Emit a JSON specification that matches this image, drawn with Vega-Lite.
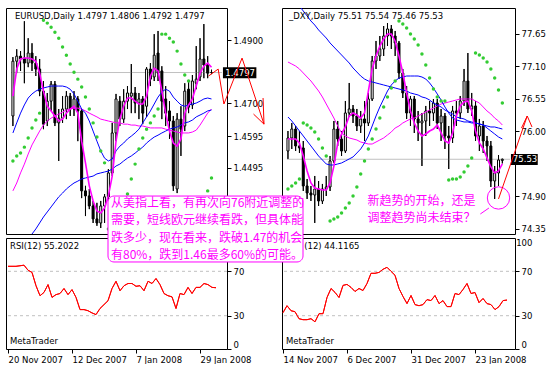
{
"$schema": "https://vega.github.io/schema/vega-lite/v6.json",
"background": "white",
"padding": {"left": 5, "top": 7, "right": 0, "bottom": 0},
"bounds": "flush",
"columns": 2,
"spacing": {"row": 4, "column": 55},
"config": {"view": {"stroke": "black", "strokeWidth": 1}, "font": "DejaVu Sans", "axis": {"labelOverlap": false, "labelBound": false, "labelFlush": false, "labelSeparation": 0}},
"datasets": {
"L": [
{"i":0,"o":1.4659,"h":1.4846,"l":1.4627,"c":1.4833,"f":1.4722,"a":1.4605,"s":1.4421,"b":1.4192,"sar":1.4516,"rsi":74.5},
{"i":1,"o":1.4833,"h":1.4871,"l":1.4795,"c":1.4849,"f":1.4808,"a":1.4637,"s":1.4446,"b":1.4205,"sar":1.4532,"rsi":74.5},
{"i":2,"o":1.4849,"h":1.4865,"l":1.4802,"c":1.4840,"f":1.4840,"a":1.4668,"s":1.4478,"b":1.4221,"sar":1.4541,"rsi":74.5},
{"i":3,"o":1.4843,"h":1.4960,"l":1.4763,"c":1.4827,"f":1.4843,"a":1.4694,"s":1.4506,"b":1.4240,"sar":1.4560,"rsi":75},
{"i":4,"o":1.4827,"h":1.4906,"l":1.4814,"c":1.4859,"f":1.4843,"a":1.4716,"s":1.4538,"b":1.4262,"sar":1.4589,"rsi":75.5},
{"i":5,"o":1.4859,"h":1.4890,"l":1.4802,"c":1.4827,"f":1.4840,"a":1.4729,"s":1.4567,"b":1.4284,"sar":1.4621,"rsi":71},
{"i":6,"o":1.4827,"h":1.4849,"l":1.4786,"c":1.4808,"f":1.4833,"a":1.4738,"s":1.4589,"b":1.4300,"sar":1.4646,"rsi":69},
{"i":7,"o":1.4808,"h":1.4840,"l":1.4722,"c":1.4738,"f":1.4795,"a":1.4744,"s":1.4611,"b":1.4319,"sar":1.4668,"rsi":57},
{"i":8,"o":1.4738,"h":1.4770,"l":1.4617,"c":1.4633,"f":1.4738,"a":1.4748,"s":1.4630,"b":1.4338,"sar":1.4963,"rsi":48},
{"i":9,"o":1.4643,"h":1.4732,"l":1.4627,"c":1.4706,"f":1.4690,"a":1.4751,"s":1.4643,"b":1.4354,"sar":1.4954,"rsi":51},
{"i":10,"o":1.4706,"h":1.4770,"l":1.4675,"c":1.4760,"f":1.4675,"a":1.4754,"s":1.4652,"b":1.4370,"sar":1.4941,"rsi":58},
{"i":11,"o":1.4760,"h":1.4770,"l":1.4627,"c":1.4637,"f":1.4659,"a":1.4754,"s":1.4659,"b":1.4386,"sar":1.4925,"rsi":46.5},
{"i":12,"o":1.4637,"h":1.4681,"l":1.4516,"c":1.4652,"f":1.4643,"a":1.4754,"s":1.4665,"b":1.4402,"sar":1.4906,"rsi":49},
{"i":13,"o":1.4652,"h":1.4722,"l":1.4637,"c":1.4681,"f":1.4649,"a":1.4754,"s":1.4671,"b":1.4414,"sar":1.4878,"rsi":50},
{"i":14,"o":1.4681,"h":1.4738,"l":1.4649,"c":1.4722,"f":1.4668,"a":1.4751,"s":1.4678,"b":1.4427,"sar":1.4852,"rsi":54.5},
{"i":15,"o":1.4722,"h":1.4732,"l":1.4659,"c":1.4681,"f":1.4681,"a":1.4744,"s":1.4681,"b":1.4437,"sar":1.4824,"rsi":49},
{"i":16,"o":1.4681,"h":1.4738,"l":1.4659,"c":1.4713,"f":1.4690,"a":1.4729,"s":1.4684,"b":1.4446,"sar":1.4798,"rsi":53.5},
{"i":17,"o":1.4713,"h":1.4722,"l":1.4579,"c":1.4675,"f":1.4668,"a":1.4706,"s":1.4684,"b":1.4452,"sar":1.4776,"rsi":46.5},
{"i":18,"o":1.4675,"h":1.4681,"l":1.4398,"c":1.4421,"f":1.4579,"a":1.4681,"s":1.4681,"b":1.4459,"sar":1.4751,"rsi":35.5},
{"i":19,"o":1.4421,"h":1.4437,"l":1.4341,"c":1.4405,"f":1.4510,"a":1.4668,"s":1.4675,"b":1.4462,"sar":1.4719,"rsi":35.5},
{"i":20,"o":1.4405,"h":1.4427,"l":1.4363,"c":1.4373,"f":1.4437,"a":1.4643,"s":1.4668,"b":1.4465,"sar":1.4681,"rsi":34.5},
{"i":21,"o":1.4373,"h":1.4389,"l":1.4319,"c":1.4332,"f":1.4389,"a":1.4611,"s":1.4662,"b":1.4468,"sar":1.4637,"rsi":32.5},
{"i":22,"o":1.4332,"h":1.4383,"l":1.4310,"c":1.4319,"f":1.4357,"a":1.4579,"s":1.4656,"b":1.4475,"sar":1.4592,"rsi":31},
{"i":23,"o":1.4319,"h":1.4389,"l":1.4303,"c":1.4373,"f":1.4351,"a":1.4548,"s":1.4649,"b":1.4478,"sar":1.4548,"rsi":36.5},
{"i":24,"o":1.4373,"h":1.4411,"l":1.4319,"c":1.4402,"f":1.4367,"a":1.4525,"s":1.4646,"b":1.4481,"sar":1.4510,"rsi":40},
{"i":25,"o":1.4402,"h":1.4490,"l":1.4389,"c":1.4478,"f":1.4405,"a":1.4516,"s":1.4643,"b":1.4484,"sar":1.4300,"rsi":43.5},
{"i":26,"o":1.4478,"h":1.4637,"l":1.4468,"c":1.4605,"f":1.4468,"a":1.4522,"s":1.4640,"b":1.4490,"sar":1.4319,"rsi":54.5},
{"i":27,"o":1.4605,"h":1.4729,"l":1.4579,"c":1.4713,"f":1.4579,"a":1.4548,"s":1.4637,"b":1.4500,"sar":1.4344,"rsi":61},
{"i":28,"o":1.4706,"h":1.4722,"l":1.4627,"c":1.4649,"f":1.4649,"a":1.4563,"s":1.4637,"b":1.4506,"sar":1.4367,"rsi":52.5},
{"i":29,"o":1.4649,"h":1.4744,"l":1.4637,"c":1.4706,"f":1.4690,"a":1.4573,"s":1.4633,"b":1.4516,"sar":1.4389,"rsi":57},
{"i":30,"o":1.4706,"h":1.4754,"l":1.4681,"c":1.4732,"f":1.4716,"a":1.4586,"s":1.4633,"b":1.4525,"sar":1.4411,"rsi":59},
{"i":31,"o":1.4722,"h":1.4824,"l":1.4668,"c":1.4732,"f":1.4716,"a":1.4595,"s":1.4630,"b":1.4532,"sar":1.4459,"rsi":59},
{"i":32,"o":1.4732,"h":1.4751,"l":1.4668,"c":1.4700,"f":1.4706,"a":1.4605,"s":1.4630,"b":1.4541,"sar":1.4506,"rsi":56.5},
{"i":33,"o":1.4700,"h":1.4732,"l":1.4649,"c":1.4713,"f":1.4697,"a":1.4617,"s":1.4627,"b":1.4551,"sar":1.4554,"rsi":57},
{"i":34,"o":1.4713,"h":1.4722,"l":1.4633,"c":1.4668,"f":1.4697,"a":1.4637,"s":1.4627,"b":1.4560,"sar":1.4589,"rsi":52.5},
{"i":35,"o":1.4690,"h":1.4814,"l":1.4656,"c":1.4808,"f":1.4722,"a":1.4656,"s":1.4624,"b":1.4573,"sar":1.4617,"rsi":61},
{"i":36,"o":1.4808,"h":1.4827,"l":1.4754,"c":1.4776,"f":1.4786,"a":1.4675,"s":1.4621,"b":1.4583,"sar":1.4637,"rsi":59},
{"i":37,"o":1.4783,"h":1.4919,"l":1.4770,"c":1.4852,"f":1.4811,"a":1.4697,"s":1.4621,"b":1.4592,"sar":1.4659,"rsi":63.5},
{"i":38,"o":1.4859,"h":1.4929,"l":1.4770,"c":1.4795,"f":1.4802,"a":1.4719,"s":1.4621,"b":1.4598,"sar":1.4681,"rsi":58},
{"i":39,"o":1.4802,"h":1.4817,"l":1.4649,"c":1.4706,"f":1.4738,"a":1.4735,"s":1.4621,"b":1.4605,"sar":1.4919,"rsi":50},
{"i":40,"o":1.4713,"h":1.4754,"l":1.4627,"c":1.4668,"f":1.4668,"a":1.4744,"s":1.4617,"b":1.4611,"sar":1.4919,"rsi":48},
{"i":41,"o":1.4675,"h":1.4706,"l":1.4586,"c":1.4643,"f":1.4611,"a":1.4738,"s":1.4614,"b":1.4617,"sar":1.4906,"rsi":47},
{"i":42,"o":1.4643,"h":1.4659,"l":1.4421,"c":1.4437,"f":1.4573,"a":1.4719,"s":1.4611,"b":1.4621,"sar":1.4894,"rsi":36.5},
{"i":43,"o":1.4427,"h":1.4668,"l":1.4414,"c":1.4649,"f":1.4563,"a":1.4706,"s":1.4608,"b":1.4624,"sar":1.4865,"rsi":50},
{"i":44,"o":1.4649,"h":1.4690,"l":1.4532,"c":1.4617,"f":1.4586,"a":1.4694,"s":1.4605,"b":1.4630,"sar":1.4824,"rsi":49},
{"i":45,"o":1.4627,"h":1.4763,"l":1.4611,"c":1.4738,"f":1.4668,"a":1.4690,"s":1.4605,"b":1.4637,"sar":1.4789,"rsi":55.5},
{"i":46,"o":1.4744,"h":1.4770,"l":1.4668,"c":1.4687,"f":1.4694,"a":1.4694,"s":1.4605,"b":1.4640,"sar":1.4770,"rsi":50},
{"i":47,"o":1.4694,"h":1.4789,"l":1.4681,"c":1.4770,"f":1.4713,"a":1.4697,"s":1.4608,"b":1.4646,"rsi":55.5},
{"i":48,"o":1.4763,"h":1.4881,"l":1.4744,"c":1.4776,"f":1.4754,"a":1.4700,"s":1.4614,"b":1.4656,"rsi":55.5},
{"i":49,"o":1.4783,"h":1.4906,"l":1.4770,"c":1.4840,"f":1.4795,"a":1.4706,"s":1.4630,"b":1.4662,"rsi":59},
{"i":50,"o":1.4840,"h":1.4951,"l":1.4779,"c":1.4821,"f":1.4817,"a":1.4713,"s":1.4649,"b":1.4668,"rsi":58},
{"i":51,"o":1.4824,"h":1.4849,"l":1.4779,"c":1.4795,"f":1.4827,"a":1.4716,"s":1.4668,"b":1.4675,"sar":1.4421,"rsi":55.5},
{"i":52,"o":1.4797,"h":1.4806,"l":1.4792,"c":1.4797,"f":1.4814,"a":1.4713,"s":1.4681,"b":1.4678,"sar":1.4462,"rsi":55.2}
],
"R": [
{"i":0,"o":75.670,"h":76.008,"l":75.535,"c":75.890,"f":75.873,"a":78.242,"s":77.176,"b":76.245,"sar":75.027,"rsi":32.7},
{"i":1,"o":75.890,"h":76.144,"l":75.704,"c":76.042,"f":75.873,"a":78.208,"s":77.142,"b":76.178,"sar":75.078,"rsi":39},
{"i":2,"o":76.042,"h":76.093,"l":75.670,"c":75.755,"f":75.873,"a":78.175,"s":77.108,"b":76.093,"sar":75.129,"rsi":34.5},
{"i":3,"o":75.755,"h":76.008,"l":75.636,"c":75.721,"f":75.805,"a":78.124,"s":77.058,"b":76.008,"sar":75.196,"rsi":33.6},
{"i":4,"o":75.721,"h":75.839,"l":74.993,"c":75.078,"f":75.585,"a":78.039,"s":76.990,"b":75.924,"sar":76.144,"rsi":27.3},
{"i":5,"o":75.078,"h":75.196,"l":74.858,"c":74.959,"f":75.332,"a":77.955,"s":76.922,"b":75.839,"sar":76.110,"rsi":26.4},
{"i":6,"o":74.959,"h":75.078,"l":74.824,"c":74.925,"f":75.129,"a":77.870,"s":76.855,"b":75.755,"sar":76.059,"rsi":26.4},
{"i":7,"o":74.925,"h":75.247,"l":74.452,"c":75.027,"f":75.044,"a":77.802,"s":76.770,"b":75.670,"sar":75.992,"rsi":27.3},
{"i":8,"o":75.027,"h":75.162,"l":74.739,"c":74.824,"f":75.027,"a":77.718,"s":76.685,"b":75.585,"sar":75.873,"rsi":24.5},
{"i":9,"o":74.824,"h":75.112,"l":74.773,"c":75.027,"f":75.010,"a":77.650,"s":76.584,"b":75.518,"sar":75.721,"rsi":31.8},
{"i":10,"o":75.027,"h":75.247,"l":74.908,"c":75.061,"f":75.010,"a":77.582,"s":76.465,"b":75.450,"sar":75.585,"rsi":31.8},
{"i":11,"o":75.061,"h":75.585,"l":74.993,"c":75.501,"f":75.129,"a":77.498,"s":76.347,"b":75.433,"sar":74.485,"rsi":46.4},
{"i":12,"o":75.501,"h":76.178,"l":75.467,"c":76.042,"f":75.416,"a":77.430,"s":76.228,"b":75.433,"sar":74.519,"rsi":54.5},
{"i":13,"o":76.042,"h":76.178,"l":75.755,"c":75.873,"f":75.805,"a":77.362,"s":76.093,"b":75.450,"sar":74.553,"rsi":51},
{"i":14,"o":75.873,"h":76.008,"l":75.585,"c":75.670,"f":75.958,"a":77.295,"s":75.975,"b":75.467,"sar":74.621,"rsi":46.4},
{"i":15,"o":75.670,"h":76.516,"l":75.636,"c":76.313,"f":76.076,"a":77.227,"s":75.924,"b":75.501,"sar":74.705,"rsi":57.3},
{"i":16,"o":76.313,"h":76.821,"l":76.245,"c":76.381,"f":76.262,"a":77.159,"s":75.890,"b":75.535,"sar":74.790,"rsi":58.2},
{"i":17,"o":76.381,"h":76.448,"l":76.144,"c":76.262,"f":76.313,"a":77.075,"s":75.873,"b":75.569,"sar":74.908,"rsi":55.5},
{"i":18,"o":76.262,"h":76.381,"l":76.008,"c":76.093,"f":76.279,"a":77.007,"s":75.856,"b":75.636,"sar":75.061,"rsi":51.8},
{"i":19,"o":76.093,"h":76.347,"l":75.975,"c":76.212,"f":76.228,"a":76.939,"s":75.822,"b":75.704,"sar":75.281,"rsi":54.5},
{"i":20,"o":76.212,"h":76.516,"l":75.839,"c":76.144,"f":76.313,"a":76.888,"s":75.805,"b":75.805,"sar":75.501,"rsi":52.7},
{"i":21,"o":76.144,"h":76.652,"l":76.093,"c":76.550,"f":76.685,"a":76.855,"s":75.788,"b":75.924,"sar":75.704,"rsi":59},
{"i":22,"o":76.550,"h":77.278,"l":76.516,"c":77.193,"f":77.058,"a":76.838,"s":75.788,"b":76.093,"sar":75.873,"rsi":68.2},
{"i":23,"o":77.193,"h":77.532,"l":77.058,"c":77.278,"f":77.278,"a":76.821,"s":75.822,"b":76.262,"sar":76.042,"rsi":68.2},
{"i":24,"o":77.278,"h":77.616,"l":77.193,"c":77.396,"f":77.447,"a":76.804,"s":75.856,"b":76.415,"sar":76.228,"rsi":69},
{"i":25,"o":77.396,"h":77.785,"l":77.278,"c":77.616,"f":77.565,"a":76.787,"s":75.890,"b":76.550,"sar":76.415,"rsi":71.8},
{"i":26,"o":77.616,"h":77.836,"l":77.447,"c":77.735,"f":77.650,"a":76.770,"s":75.941,"b":76.685,"sar":76.584,"rsi":73.6},
{"i":27,"o":77.735,"h":77.802,"l":77.396,"c":77.616,"f":77.650,"a":76.753,"s":75.992,"b":76.787,"sar":76.736,"rsi":70},
{"i":28,"o":77.616,"h":77.701,"l":77.278,"c":77.498,"f":77.532,"a":76.736,"s":76.059,"b":76.855,"sar":76.855,"rsi":66.4},
{"i":29,"o":77.498,"h":77.532,"l":76.888,"c":76.990,"f":77.278,"a":76.719,"s":76.093,"b":76.905,"sar":77.870,"rsi":54.5},
{"i":30,"o":76.990,"h":77.058,"l":76.567,"c":76.652,"f":76.990,"a":76.702,"s":76.144,"b":76.922,"sar":77.819,"rsi":47.3},
{"i":31,"o":76.652,"h":76.770,"l":76.212,"c":76.313,"f":76.652,"a":76.685,"s":76.178,"b":76.939,"sar":77.752,"rsi":40.9},
{"i":32,"o":76.313,"h":76.601,"l":76.093,"c":76.550,"f":76.347,"a":76.652,"s":76.212,"b":76.939,"sar":77.650,"rsi":48.2},
{"i":33,"o":76.550,"h":76.601,"l":75.975,"c":76.212,"f":76.144,"a":76.635,"s":76.228,"b":76.939,"sar":77.565,"rsi":40},
{"i":34,"o":76.212,"h":76.347,"l":75.839,"c":76.144,"f":76.008,"a":76.618,"s":76.262,"b":76.939,"sar":77.464,"rsi":39},
{"i":35,"o":76.144,"h":76.313,"l":75.416,"c":76.178,"f":75.924,"a":76.584,"s":76.296,"b":76.922,"sar":77.312,"rsi":40},
{"i":36,"o":76.178,"h":76.432,"l":75.924,"c":76.347,"f":75.958,"a":76.567,"s":76.330,"b":76.888,"sar":77.125,"rsi":44.5},
{"i":37,"o":76.347,"h":76.516,"l":76.093,"c":76.313,"f":76.008,"a":76.533,"s":76.364,"b":76.821,"sar":76.905,"rsi":43.6},
{"i":38,"o":76.313,"h":76.550,"l":76.178,"c":76.482,"f":76.042,"a":76.482,"s":76.398,"b":76.736,"sar":76.719,"rsi":48.2},
{"i":39,"o":76.482,"h":76.550,"l":76.042,"c":76.144,"f":76.110,"a":76.448,"s":76.432,"b":76.635,"sar":76.584,"rsi":40.9},
{"i":40,"o":76.144,"h":76.381,"l":75.839,"c":76.262,"f":75.975,"a":76.415,"s":76.465,"b":76.533,"sar":76.516,"rsi":43.6},
{"i":41,"o":76.262,"h":76.313,"l":75.704,"c":75.924,"f":75.839,"a":76.364,"s":76.482,"b":76.415,"sar":76.516,"rsi":38.2},
{"i":42,"o":75.924,"h":76.093,"l":75.365,"c":75.890,"f":75.805,"a":76.330,"s":76.499,"b":76.313,"sar":75.179,"rsi":38.2},
{"i":43,"o":75.890,"h":76.432,"l":75.805,"c":76.347,"f":75.975,"a":76.296,"s":76.516,"b":76.228,"sar":75.196,"rsi":50},
{"i":44,"o":76.347,"h":76.516,"l":76.093,"c":76.313,"f":76.262,"a":76.245,"s":76.533,"b":76.195,"sar":75.196,"rsi":49},
{"i":45,"o":76.313,"h":76.601,"l":76.212,"c":76.516,"f":76.432,"a":76.228,"s":76.550,"b":76.178,"sar":75.230,"rsi":53.6},
{"i":46,"o":76.516,"h":77.058,"l":76.432,"c":76.855,"f":76.499,"a":76.212,"s":76.550,"b":76.161,"sar":75.315,"rsi":59},
{"i":47,"o":76.855,"h":77.328,"l":76.313,"c":76.381,"f":76.516,"a":76.178,"s":76.550,"b":76.161,"sar":75.416,"rsi":50},
{"i":48,"o":76.381,"h":76.652,"l":76.262,"c":76.432,"f":76.347,"a":76.161,"s":76.550,"b":76.144,"sar":75.552,"rsi":50.9},
{"i":49,"o":76.432,"h":76.516,"l":75.839,"c":75.924,"f":76.008,"a":76.144,"s":76.516,"b":76.144,"sar":77.328,"rsi":41.8},
{"i":50,"o":75.924,"h":76.212,"l":75.670,"c":76.093,"f":75.805,"a":76.127,"s":76.482,"b":76.127,"sar":77.295,"rsi":45.5},
{"i":51,"o":76.093,"h":76.178,"l":75.636,"c":75.839,"f":75.704,"a":76.110,"s":76.415,"b":76.110,"sar":77.244,"rsi":40.9},
{"i":52,"o":75.839,"h":75.924,"l":75.501,"c":75.755,"f":75.552,"a":76.093,"s":76.347,"b":76.059,"sar":77.176,"rsi":40},
{"i":53,"o":75.755,"h":75.839,"l":75.061,"c":75.162,"f":75.399,"a":76.076,"s":76.296,"b":76.008,"sar":77.058,"rsi":35.5},
{"i":54,"o":75.162,"h":75.416,"l":74.858,"c":75.298,"f":75.298,"a":76.076,"s":76.228,"b":75.958,"sar":76.905,"rsi":38.2},
{"i":55,"o":75.298,"h":75.602,"l":75.078,"c":75.518,"f":75.332,"a":76.059,"s":76.178,"b":75.907,"sar":76.702,"rsi":43.6},
{"i":56,"o":75.51,"h":75.54,"l":75.46,"c":75.53,"f":75.450,"a":76.042,"s":76.110,"b":75.873,"sar":76.482,"rsi":44.1}
]
},
"concat": [
{
"width": 221, "height": 226,
"data": {"name": "L"},
"layer": [
{"mark": {"type": "rule", "color": "black", "strokeWidth": 1},
 "encoding": {"x": {"field": "i", "type": "quantitative", "scale": {"domain": [-0.5, 54.75], "nice": false, "zero": false}, "axis": null},
  "y": {"field": "l", "type": "quantitative", "scale": {"domain": [1.4284, 1.5002], "nice": false, "zero": false},
   "axis": {"orient": "right", "values": [1.49, 1.47, 1.4595, 1.4495], "format": ".4f", "tickSize": 4, "labelPadding": 2, "domain": false, "grid": false, "title": null, "labelOverlap": false, "labelFont": "DejaVu Sans", "labelFontSize": 8.5, "labelColor": "black", "tickColor": "black"}},
  "y2": {"field": "h"}}},
{"data": {"values": [{}]}, "mark": {"type": "rule", "color": "#C0C0C0", "strokeWidth": 1},
 "encoding": {"x": {"datum": -0.5, "type": "quantitative", "scale": {"domain": [-0.5, 54.75], "nice": false, "zero": false}, "axis": null}, "x2": {"datum": 54.75},
  "y": {"datum": 1.4797, "type": "quantitative", "scale": {"domain": [1.4284, 1.5002], "nice": false, "zero": false}}}},
{"mark": {"type": "rule", "color": "black", "strokeWidth": 1},
 "encoding": {"x": {"field": "i", "type": "quantitative", "scale": {"domain": [-0.5, 54.75], "nice": false, "zero": false}, "axis": null},
  "y": {"field": "l", "type": "quantitative", "scale": {"domain": [1.4284, 1.5002], "nice": false, "zero": false}}, "y2": {"field": "h"}}},
{"mark": {"type": "bar", "size": 2, "stroke": "black", "strokeWidth": 1},
 "encoding": {"x": {"field": "i", "type": "quantitative", "scale": {"domain": [-0.5, 54.75], "nice": false, "zero": false}, "axis": null},
  "y": {"field": "o", "type": "quantitative", "scale": {"domain": [1.4284, 1.5002], "nice": false, "zero": false}}, "y2": {"field": "c"},
  "fill": {"condition": {"test": "datum.c >= datum.o", "value": "white"}, "value": "black"}}},
{"mark": {"type": "line", "color": "#FF00FF", "strokeWidth": 1, "clip": true},
 "encoding": {"x": {"field": "i", "type": "quantitative", "scale": {"domain": [-0.5, 54.75], "nice": false, "zero": false}, "axis": null},
  "y": {"field": "s", "type": "quantitative", "scale": {"domain": [1.4284, 1.5002], "nice": false, "zero": false}}}},
{"mark": {"type": "line", "color": "#0000FF", "strokeWidth": 1, "clip": true},
 "encoding": {"x": {"field": "i", "type": "quantitative", "scale": {"domain": [-0.5, 54.75], "nice": false, "zero": false}, "axis": null},
  "y": {"field": "b", "type": "quantitative", "scale": {"domain": [1.4284, 1.5002], "nice": false, "zero": false}}}},
{"mark": {"type": "line", "color": "#0000FF", "strokeWidth": 1, "clip": true},
 "encoding": {"x": {"field": "i", "type": "quantitative", "scale": {"domain": [-0.5, 54.75], "nice": false, "zero": false}, "axis": null},
  "y": {"field": "a", "type": "quantitative", "scale": {"domain": [1.4284, 1.5002], "nice": false, "zero": false}}}},
{"mark": {"type": "line", "color": "#FF00FF", "strokeWidth": 1.6, "clip": true},
 "encoding": {"x": {"field": "i", "type": "quantitative", "scale": {"domain": [-0.5, 54.75], "nice": false, "zero": false}, "axis": null},
  "y": {"field": "f", "type": "quantitative", "scale": {"domain": [1.4284, 1.5002], "nice": false, "zero": false}}}},
{"mark": {"type": "point", "filled": true, "shape": "circle", "size": 12, "color": "#33CC33", "opacity": 1, "clip": true},
 "encoding": {"x": {"field": "i", "type": "quantitative", "scale": {"domain": [-0.5, 54.75], "nice": false, "zero": false}, "axis": null},
  "y": {"field": "sar", "type": "quantitative", "scale": {"domain": [1.4284, 1.5002], "nice": false, "zero": false}}}},
{"data": {"values": [{}]}, "mark": {"type": "text", "align": "left", "baseline": "top", "dx": 4, "dy": 4, "font": "DejaVu Sans", "fontSize": 8.5, "color": "black"},
 "encoding": {"x": {"datum": -0.5, "type": "quantitative", "scale": {"domain": [-0.5, 54.75], "nice": false, "zero": false}, "axis": null},
  "y": {"datum": 1.5002, "type": "quantitative", "scale": {"domain": [1.4284, 1.5002], "nice": false, "zero": false}},
  "text": {"value": "EURUSD,Daily  1.4797 1.4806 1.4792 1.4797"}}},
{"data": {"values": [{}]}, "mark": {"type": "rect", "color": "black"},
 "encoding": {"x": {"datum": 55.0, "type": "quantitative", "scale": {"domain": [-0.5, 54.75], "nice": false, "zero": false}, "axis": null}, "x2": {"datum": 63.75},
  "y": {"datum": 1.4814, "type": "quantitative", "scale": {"domain": [1.4284, 1.5002], "nice": false, "zero": false}}, "y2": {"datum": 1.4779}}},
{"data": {"values": [{}]}, "mark": {"type": "text", "align": "left", "baseline": "middle", "font": "DejaVu Sans", "fontSize": 8.5, "color": "white"},
 "encoding": {"x": {"datum": 55.6, "type": "quantitative", "scale": {"domain": [-0.5, 54.75], "nice": false, "zero": false}, "axis": null},
  "y": {"datum": 1.4797, "type": "quantitative", "scale": {"domain": [1.4284, 1.5002], "nice": false, "zero": false}},
  "text": {"value": "1.4797"}}},
{"data": {"values": [{}]}, "mark": {"type": "rule", "color": "#FF0000", "strokeWidth": 1},
 "encoding": {"x": {"datum": 51.25, "type": "quantitative", "scale": {"domain": [-0.5, 54.75], "nice": false, "zero": false}, "axis": null}, "x2": {"datum": 53.75},
  "y": {"datum": 1.4786, "type": "quantitative", "scale": {"domain": [1.4284, 1.5002], "nice": false, "zero": false}}, "y2": {"datum": 1.4808}}},
{"data": {"values": [{}]}, "mark": {"type": "rule", "color": "#FF0000", "strokeWidth": 1},
 "encoding": {"x": {"datum": 53.75, "type": "quantitative", "scale": {"domain": [-0.5, 54.75], "nice": false, "zero": false}, "axis": null}, "x2": {"datum": 55.25},
  "y": {"datum": 1.4808, "type": "quantitative", "scale": {"domain": [1.4284, 1.5002], "nice": false, "zero": false}}, "y2": {"datum": 1.4697}}},
{"data": {"values": [{}]}, "mark": {"type": "rule", "color": "#FF0000", "strokeWidth": 1},
 "encoding": {"x": {"datum": 55.25, "type": "quantitative", "scale": {"domain": [-0.5, 54.75], "nice": false, "zero": false}, "axis": null}, "x2": {"datum": 60},
  "y": {"datum": 1.4697, "type": "quantitative", "scale": {"domain": [1.4284, 1.5002], "nice": false, "zero": false}}, "y2": {"datum": 1.4843}}},
{"data": {"values": [{}]}, "mark": {"type": "rule", "color": "#FF0000", "strokeWidth": 1},
 "encoding": {"x": {"datum": 60, "type": "quantitative", "scale": {"domain": [-0.5, 54.75], "nice": false, "zero": false}, "axis": null}, "x2": {"datum": 65.75},
  "y": {"datum": 1.4843, "type": "quantitative", "scale": {"domain": [1.4284, 1.5002], "nice": false, "zero": false}}, "y2": {"datum": 1.4633}}},
{"data": {"values": [{}]}, "mark": {"type": "rule", "color": "#FF0000", "strokeWidth": 1},
 "encoding": {"x": {"datum": 65.5, "type": "quantitative", "scale": {"domain": [-0.5, 54.75], "nice": false, "zero": false}, "axis": null}, "x2": {"datum": 65.75},
  "y": {"datum": 1.4716, "type": "quantitative", "scale": {"domain": [1.4284, 1.5002], "nice": false, "zero": false}}, "y2": {"datum": 1.4633}}},
{"data": {"values": [{}]}, "mark": {"type": "rule", "color": "#FF0000", "strokeWidth": 1},
 "encoding": {"x": {"datum": 63, "type": "quantitative", "scale": {"domain": [-0.5, 54.75], "nice": false, "zero": false}, "axis": null}, "x2": {"datum": 65.75},
  "y": {"datum": 1.4665, "type": "quantitative", "scale": {"domain": [1.4284, 1.5002], "nice": false, "zero": false}}, "y2": {"datum": 1.4633}}}
]
},
{
"width": 233, "height": 226,
"data": {"name": "R"},
"layer": [
{"mark": {"type": "rule", "color": "black", "strokeWidth": 1},
 "encoding": {"x": {"field": "i", "type": "quantitative", "scale": {"domain": [-0.25, 58], "nice": false, "zero": false}, "axis": null},
  "y": {"field": "l", "type": "quantitative", "scale": {"domain": [74.265, 78.09], "nice": false, "zero": false},
   "axis": {"orient": "right", "values": [77.65, 77.1, 76.55, 76.0, 74.9, 74.35], "format": ".2f", "tickSize": 4, "labelPadding": 2, "domain": false, "grid": false, "title": null, "labelOverlap": false, "labelBound": false, "labelFont": "DejaVu Sans", "labelFontSize": 8.5, "labelColor": "black", "tickColor": "black"}},
  "y2": {"field": "h"}}},
{"data": {"values": [{}]}, "mark": {"type": "rule", "color": "#C0C0C0", "strokeWidth": 1},
 "encoding": {"x": {"datum": -0.25, "type": "quantitative", "scale": {"domain": [-0.25, 58], "nice": false, "zero": false}, "axis": null}, "x2": {"datum": 58},
  "y": {"datum": 75.53, "type": "quantitative", "scale": {"domain": [74.265, 78.09], "nice": false, "zero": false}}}},
{"mark": {"type": "rule", "color": "black", "strokeWidth": 1},
 "encoding": {"x": {"field": "i", "type": "quantitative", "scale": {"domain": [-0.25, 58], "nice": false, "zero": false}, "axis": null},
  "y": {"field": "l", "type": "quantitative", "scale": {"domain": [74.265, 78.09], "nice": false, "zero": false}}, "y2": {"field": "h"}}},
{"mark": {"type": "bar", "size": 2, "stroke": "black", "strokeWidth": 1},
 "encoding": {"x": {"field": "i", "type": "quantitative", "scale": {"domain": [-0.25, 58], "nice": false, "zero": false}, "axis": null},
  "y": {"field": "o", "type": "quantitative", "scale": {"domain": [74.265, 78.09], "nice": false, "zero": false}}, "y2": {"field": "c"},
  "fill": {"condition": {"test": "datum.c >= datum.o", "value": "white"}, "value": "black"}}},
{"mark": {"type": "line", "color": "#FF00FF", "strokeWidth": 1, "clip": true},
 "encoding": {"x": {"field": "i", "type": "quantitative", "scale": {"domain": [-0.25, 58], "nice": false, "zero": false}, "axis": null},
  "y": {"field": "s", "type": "quantitative", "scale": {"domain": [74.265, 78.09], "nice": false, "zero": false}}}},
{"mark": {"type": "line", "color": "#0000FF", "strokeWidth": 1, "clip": true},
 "encoding": {"x": {"field": "i", "type": "quantitative", "scale": {"domain": [-0.25, 58], "nice": false, "zero": false}, "axis": null},
  "y": {"field": "a", "type": "quantitative", "scale": {"domain": [74.265, 78.09], "nice": false, "zero": false}}}},
{"mark": {"type": "line", "color": "#0000FF", "strokeWidth": 1, "clip": true},
 "encoding": {"x": {"field": "i", "type": "quantitative", "scale": {"domain": [-0.25, 58], "nice": false, "zero": false}, "axis": null},
  "y": {"field": "b", "type": "quantitative", "scale": {"domain": [74.265, 78.09], "nice": false, "zero": false}}}},
{"mark": {"type": "line", "color": "#FF00FF", "strokeWidth": 1.6, "clip": true},
 "encoding": {"x": {"field": "i", "type": "quantitative", "scale": {"domain": [-0.25, 58], "nice": false, "zero": false}, "axis": null},
  "y": {"field": "f", "type": "quantitative", "scale": {"domain": [74.265, 78.09], "nice": false, "zero": false}}}},
{"mark": {"type": "point", "filled": true, "shape": "circle", "size": 12, "color": "#33CC33", "opacity": 1, "clip": true},
 "encoding": {"x": {"field": "i", "type": "quantitative", "scale": {"domain": [-0.25, 58], "nice": false, "zero": false}, "axis": null},
  "y": {"field": "sar", "type": "quantitative", "scale": {"domain": [74.265, 78.09], "nice": false, "zero": false}}}},
{"data": {"values": [{}]}, "mark": {"type": "text", "align": "left", "baseline": "top", "dx": 2, "dy": 4, "font": "DejaVu Sans", "fontSize": 8.5, "color": "black"},
 "encoding": {"x": {"datum": -0.25, "type": "quantitative", "scale": {"domain": [-0.25, 58], "nice": false, "zero": false}, "axis": null},
  "y": {"datum": 78.09, "type": "quantitative", "scale": {"domain": [74.265, 78.09], "nice": false, "zero": false}},
  "text": {"value": "_DXY,Daily  75.51 75.54 75.46 75.53"}}},
{"data": {"values": [{}]}, "mark": {"type": "text", "align": "left", "baseline": "middle", "font": "Noto Sans CJK SC", "fontSize": 12, "color": "#FF00FF"},
 "encoding": {"x": {"datum": 20.75, "type": "quantitative", "scale": {"domain": [-0.25, 58], "nice": false, "zero": false}, "axis": null},
  "y": {"datum": 74.824, "type": "quantitative", "scale": {"domain": [74.265, 78.09], "nice": false, "zero": false}},
  "text": {"value": "新趋势的开始，还是"}}},
{"data": {"values": [{}]}, "mark": {"type": "text", "align": "left", "baseline": "middle", "font": "Noto Sans CJK SC", "fontSize": 12, "color": "#FF00FF"},
 "encoding": {"x": {"datum": 20.75, "type": "quantitative", "scale": {"domain": [-0.25, 58], "nice": false, "zero": false}, "axis": null},
  "y": {"datum": 74.536, "type": "quantitative", "scale": {"domain": [74.265, 78.09], "nice": false, "zero": false}},
  "text": {"value": "调整趋势尚未结束？"}}},
{"data": {"values": [{}]}, "mark": {"type": "point", "shape": "circle", "size": 500, "filled": false, "stroke": "#FF00FF", "strokeWidth": 1, "opacity": 1},
 "encoding": {"x": {"datum": 55, "type": "quantitative", "scale": {"domain": [-0.25, 58], "nice": false, "zero": false}, "axis": null},
  "y": {"datum": 74.875, "type": "quantitative", "scale": {"domain": [74.265, 78.09], "nice": false, "zero": false}}}},
{"data": {"values": [{}]}, "mark": {"type": "rule", "color": "#FF00FF", "strokeWidth": 1},
 "encoding": {"x": {"datum": 50.25, "type": "quantitative", "scale": {"domain": [-0.25, 58], "nice": false, "zero": false}, "axis": null}, "x2": {"datum": 52.5},
  "y": {"datum": 74.604, "type": "quantitative", "scale": {"domain": [74.265, 78.09], "nice": false, "zero": false}}, "y2": {"datum": 74.705}}},
{"data": {"values": [{}]}, "mark": {"type": "rect", "color": "black"},
 "encoding": {"x": {"datum": 58.25, "type": "quantitative", "scale": {"domain": [-0.25, 58], "nice": false, "zero": false}, "axis": null}, "x2": {"datum": 65.25},
  "y": {"datum": 75.619, "type": "quantitative", "scale": {"domain": [74.265, 78.09], "nice": false, "zero": false}}, "y2": {"datum": 75.433}}},
{"data": {"values": [{}]}, "mark": {"type": "text", "align": "left", "baseline": "middle", "font": "DejaVu Sans", "fontSize": 8.5, "color": "white"},
 "encoding": {"x": {"datum": 58.75, "type": "quantitative", "scale": {"domain": [-0.25, 58], "nice": false, "zero": false}, "axis": null},
  "y": {"datum": 75.53, "type": "quantitative", "scale": {"domain": [74.265, 78.09], "nice": false, "zero": false}},
  "text": {"value": "75.53"}}},
{"data": {"values": [{}]}, "mark": {"type": "text", "align": "left", "baseline": "middle", "font": "DejaVu Sans", "fontSize": 8.5, "color": "black"},
 "encoding": {"x": {"datum": 59.6, "type": "quantitative", "scale": {"domain": [-0.25, 58], "nice": false, "zero": false}, "axis": null},
  "y": {"datum": 74.11, "type": "quantitative", "scale": {"domain": [74.265, 78.09], "nice": false, "zero": false}},
  "text": {"value": "100"}}},
{"data": {"values": [{}]}, "mark": {"type": "rule", "color": "#FF0000", "strokeWidth": 1},
 "encoding": {"x": {"datum": 55, "type": "quantitative", "scale": {"domain": [-0.25, 58], "nice": false, "zero": false}, "axis": null}, "x2": {"datum": 62.5},
  "y": {"datum": 74.858, "type": "quantitative", "scale": {"domain": [74.265, 78.09], "nice": false, "zero": false}}, "y2": {"datum": 76.262}}},
{"data": {"values": [{}]}, "mark": {"type": "rule", "color": "#FF0000", "strokeWidth": 1},
 "encoding": {"x": {"datum": 61, "type": "quantitative", "scale": {"domain": [-0.25, 58], "nice": false, "zero": false}, "axis": null}, "x2": {"datum": 62.5},
  "y": {"datum": 76.059, "type": "quantitative", "scale": {"domain": [74.265, 78.09], "nice": false, "zero": false}}, "y2": {"datum": 76.262}}},
{"data": {"values": [{}]}, "mark": {"type": "rule", "color": "#FF0000", "strokeWidth": 1},
 "encoding": {"x": {"datum": 63.75, "type": "quantitative", "scale": {"domain": [-0.25, 58], "nice": false, "zero": false}, "axis": null}, "x2": {"datum": 62.5},
  "y": {"datum": 76.076, "type": "quantitative", "scale": {"domain": [74.265, 78.09], "nice": false, "zero": false}}, "y2": {"datum": 76.262}}}
]
},
{
"width": 221, "height": 111,
"data": {"name": "L"},
"layer": [
{"mark": {"type": "line", "color": "#FF0000", "strokeWidth": 1},
 "encoding": {"x": {"field": "i", "type": "quantitative", "scale": {"domain": [-0.5, 54.75], "nice": false, "zero": false},
   "axis": {"orient": "bottom", "values": [0, 16, 32, 48], "labelExpr": "datum.value == 0 ? '20 Nov 2007' : datum.value == 16 ? '12 Dec 2007' : datum.value == 32 ? '7 Jan 2008' : '29 Jan 2008'", "labelAlign": "left", "labelFlush": false, "labelOverlap": false, "tickSize": 4, "labelPadding": 2, "domain": false, "grid": false, "title": null, "labelFont": "DejaVu Sans", "labelFontSize": 8.5, "labelColor": "black", "tickColor": "black"}},
  "y": {"field": "rsi", "type": "quantitative", "scale": {"domain": [0, 100], "nice": false, "zero": false},
   "axis": {"orient": "right", "values": [0, 30, 70], "format": "d", "tickSize": 4, "labelPadding": 2, "domain": false, "grid": false, "title": null, "labelOverlap": false, "labelFont": "DejaVu Sans", "labelFontSize": 8.5, "labelColor": "black", "tickColor": "black",
    "labelBaseline": {"condition": {"test": "datum.value == 0", "value": "bottom"}, "value": "middle"}}}}},
{"data": {"values": [{}]}, "mark": {"type": "rule", "color": "#C0C0C0", "strokeDash": [3, 3]},
 "encoding": {"y": {"datum": 70, "type": "quantitative", "scale": {"domain": [0, 100], "nice": false, "zero": false}}}},
{"data": {"values": [{}]}, "mark": {"type": "rule", "color": "#C0C0C0", "strokeDash": [3, 3]},
 "encoding": {"y": {"datum": 30, "type": "quantitative", "scale": {"domain": [0, 100], "nice": false, "zero": false}}}},
{"mark": {"type": "line", "color": "#FF0000", "strokeWidth": 1},
 "encoding": {"x": {"field": "i", "type": "quantitative", "scale": {"domain": [-0.5, 54.75], "nice": false, "zero": false}},
  "y": {"field": "rsi", "type": "quantitative", "scale": {"domain": [0, 100], "nice": false, "zero": false}}}},
{"data": {"values": [{}]}, "mark": {"type": "text", "align": "left", "baseline": "top", "dx": 4, "dy": 4, "font": "DejaVu Sans", "fontSize": 8.5, "color": "black"},
 "encoding": {"x": {"datum": -0.5, "type": "quantitative", "scale": {"domain": [-0.5, 54.75], "nice": false, "zero": false}},
  "y": {"datum": 100, "type": "quantitative", "scale": {"domain": [0, 100], "nice": false, "zero": false}},
  "text": {"value": "RSI(12) 55.2022"}}},
{"data": {"values": [{}]}, "mark": {"type": "text", "align": "left", "baseline": "bottom", "dx": 4, "dy": -3, "font": "DejaVu Sans", "fontSize": 8.5, "color": "black"},
 "encoding": {"x": {"datum": -0.5, "type": "quantitative", "scale": {"domain": [-0.5, 54.75], "nice": false, "zero": false}},
  "y": {"datum": 0, "type": "quantitative", "scale": {"domain": [0, 100], "nice": false, "zero": false}},
  "text": {"value": "MetaTrader"}}}
]
},
{
"width": 233, "height": 111,
"data": {"name": "R"},
"layer": [
{"mark": {"type": "line", "color": "#FF0000", "strokeWidth": 1},
 "encoding": {"x": {"field": "i", "type": "quantitative", "scale": {"domain": [-0.25, 58], "nice": false, "zero": false},
   "axis": {"orient": "bottom", "values": [0, 16, 32, 48], "labelExpr": "datum.value == 0 ? '14 Nov 2007' : datum.value == 16 ? '6 Dec 2007' : datum.value == 32 ? '31 Dec 2007' : '23 Jan 2008'", "labelAlign": "left", "labelFlush": false, "labelOverlap": false, "tickSize": 4, "labelPadding": 2, "domain": false, "grid": false, "title": null, "labelFont": "DejaVu Sans", "labelFontSize": 8.5, "labelColor": "black", "tickColor": "black"}},
  "y": {"field": "rsi", "type": "quantitative", "scale": {"domain": [0, 100], "nice": false, "zero": false},
   "axis": {"orient": "right", "values": [0, 30, 70], "format": "d", "tickSize": 4, "labelPadding": 2, "domain": false, "grid": false, "title": null, "labelOverlap": false, "labelFont": "DejaVu Sans", "labelFontSize": 8.5, "labelColor": "black", "tickColor": "black",
    "labelBaseline": {"condition": {"test": "datum.value == 0", "value": "bottom"}, "value": "middle"}}}}},
{"data": {"values": [{}]}, "mark": {"type": "rule", "color": "#C0C0C0", "strokeDash": [3, 3]},
 "encoding": {"y": {"datum": 70, "type": "quantitative", "scale": {"domain": [0, 100], "nice": false, "zero": false}}}},
{"data": {"values": [{}]}, "mark": {"type": "rule", "color": "#C0C0C0", "strokeDash": [3, 3]},
 "encoding": {"y": {"datum": 30, "type": "quantitative", "scale": {"domain": [0, 100], "nice": false, "zero": false}}}},
{"mark": {"type": "line", "color": "#FF0000", "strokeWidth": 1},
 "encoding": {"x": {"field": "i", "type": "quantitative", "scale": {"domain": [-0.25, 58], "nice": false, "zero": false}},
  "y": {"field": "rsi", "type": "quantitative", "scale": {"domain": [0, 100], "nice": false, "zero": false}}}},
{"data": {"values": [{}]}, "mark": {"type": "text", "align": "left", "baseline": "top", "dx": 0, "dy": 4, "font": "DejaVu Sans", "fontSize": 8.5, "color": "black"},
 "encoding": {"x": {"datum": 5.3, "type": "quantitative", "scale": {"domain": [-0.25, 58], "nice": false, "zero": false}},
  "y": {"datum": 100, "type": "quantitative", "scale": {"domain": [0, 100], "nice": false, "zero": false}},
  "text": {"value": "(12) 44.1165"}}},
{"data": {"values": [{}]}, "mark": {"type": "text", "align": "left", "baseline": "bottom", "dx": 4, "dy": -3, "font": "DejaVu Sans", "fontSize": 8.5, "color": "black"},
 "encoding": {"x": {"datum": -0.25, "type": "quantitative", "scale": {"domain": [-0.25, 58], "nice": false, "zero": false}},
  "y": {"datum": 0, "type": "quantitative", "scale": {"domain": [0, 100], "nice": false, "zero": false}},
  "text": {"value": "MetaTrader"}}},
{"data": {"values": [{}]}, "mark": {"type": "rect", "fill": "white", "stroke": "#FF00FF", "strokeWidth": 1, "cornerRadius": 6},
 "encoding": {"x": {"datum": -43.75, "type": "quantitative", "scale": {"domain": [-0.25, 58], "nice": false, "zero": false}}, "x2": {"datum": 5},
  "y": {"datum": 137.8, "type": "quantitative", "scale": {"domain": [0, 100], "nice": false, "zero": false}}, "y2": {"datum": 78.4}}},
{"data": {"values": [{}]}, "mark": {"type": "text", "align": "left", "baseline": "middle", "font": "Noto Sans CJK SC", "fontSize": 12, "color": "#FF00FF"},
 "encoding": {"x": {"datum": -43, "type": "quantitative", "scale": {"domain": [-0.25, 58], "nice": false, "zero": false}},
  "y": {"datum": 131.5, "type": "quantitative", "scale": {"domain": [0, 100], "nice": false, "zero": false}},
  "text": {"value": "从美指上看，有再次向76附近调整的"}}},
{"data": {"values": [{}]}, "mark": {"type": "text", "align": "left", "baseline": "middle", "font": "Noto Sans CJK SC", "fontSize": 12, "color": "#FF00FF"},
 "encoding": {"x": {"datum": -43, "type": "quantitative", "scale": {"domain": [-0.25, 58], "nice": false, "zero": false}},
  "y": {"datum": 116.2, "type": "quantitative", "scale": {"domain": [0, 100], "nice": false, "zero": false}},
  "text": {"value": "需要，短线欧元继续看跌，但具体能"}}},
{"data": {"values": [{}]}, "mark": {"type": "text", "align": "left", "baseline": "middle", "font": "Noto Sans CJK SC", "fontSize": 12, "color": "#FF00FF"},
 "encoding": {"x": {"datum": -43, "type": "quantitative", "scale": {"domain": [-0.25, 58], "nice": false, "zero": false}},
  "y": {"datum": 100, "type": "quantitative", "scale": {"domain": [0, 100], "nice": false, "zero": false}},
  "text": {"value": "跌多少，现在看来，跌破1.47的机会"}}},
{"data": {"values": [{}]}, "mark": {"type": "text", "align": "left", "baseline": "middle", "font": "Noto Sans CJK SC", "fontSize": 12, "color": "#FF00FF"},
 "encoding": {"x": {"datum": -43, "type": "quantitative", "scale": {"domain": [-0.25, 58], "nice": false, "zero": false}},
  "y": {"datum": 84.7, "type": "quantitative", "scale": {"domain": [0, 100], "nice": false, "zero": false}},
  "text": {"value": "有80%，跌到1.46最多60%的可能。"}}}
]
}
]
}
